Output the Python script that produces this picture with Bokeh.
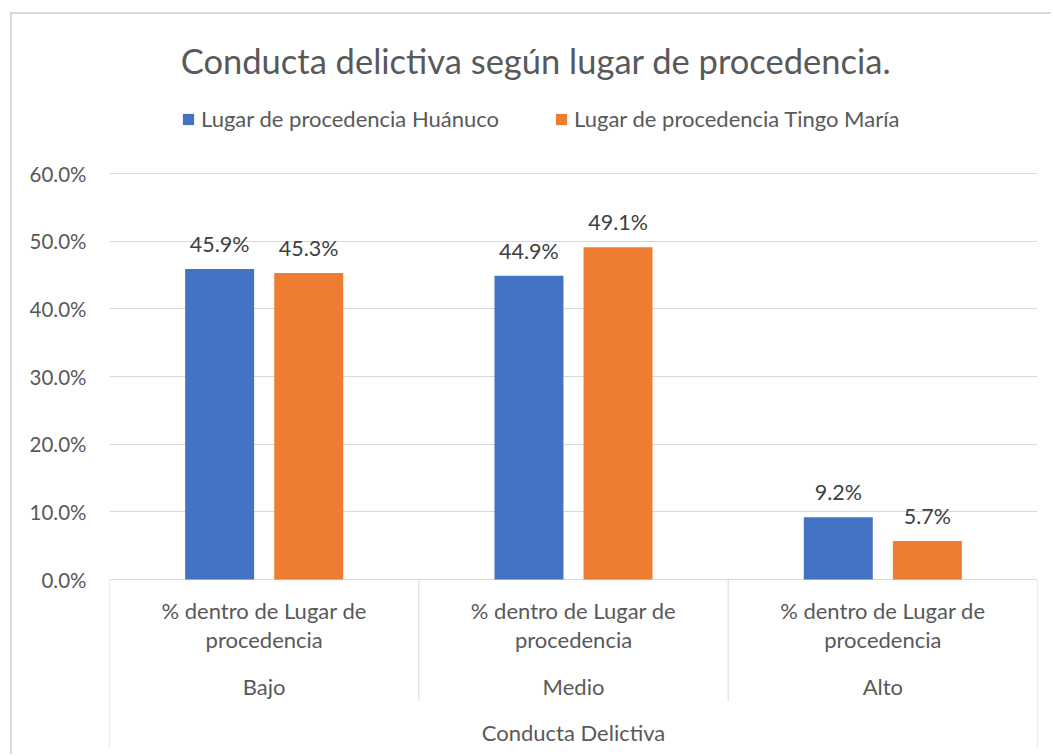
from bokeh.plotting import figure
from bokeh.models import (ColumnDataSource, FactorRange, Range1d, FixedTicker,
                          NumeralTickFormatter, Label, Legend, LegendItem)
from bokeh.transform import dodge
from bokeh.core.properties import value
from bokeh.embed import file_html
from bokeh.resources import INLINE

# ---------------- data ----------------
title_text = "Conducta delictiva según lugar de procedencia."
categories = ["Bajo", "Medio", "Alto"]
sub_label = "% dentro de Lugar de\nprocedencia"
group_label = "Conducta Delictiva"
series_names = ["Lugar de procedencia Huánuco", "Lugar de procedencia Tingo María"]
huanuco = [0.459, 0.449, 0.092]
tingo = [0.453, 0.491, 0.057]
y_ticks = [0.0, 0.1, 0.2, 0.3, 0.4, 0.5, 0.6]

# ---------------- layout / style ----------------
FONT = "Lato"
BLUE = "#4472C4"
ORANGE = "#ED7D31"
GRID = "#d9d9d9"
TXT = "#595959"
LBL = "#404040"

OX, OY = 12, 14            # page position of the canvas (after margin + border)
W, H = 1053 - OX, 756 - OY
FRAME_L, FRAME_R = 109, 1037
ZERO_Y = 579               # page y of 0 %
TOP_Y = 173                # page y of 60 %
PX = (ZERO_Y - TOP_Y) / (y_ticks[-1] - y_ticks[0])
PAGE_BOTTOM = OY + H


def py(page_y):
    return (ZERO_Y - page_y) / PX


y_start = py(PAGE_BOTTOM)
y_end = py(OY)

p = figure(width=W, height=H, output_backend="svg", toolbar_location=None,
           x_range=FactorRange(factors=categories, range_padding=0),
           y_range=Range1d(y_start, y_end),
           x_axis_location=None, y_axis_location="left",
           min_border_left=FRAME_L - OX, min_border_right=OX + W - FRAME_R,
           min_border_top=0, min_border_bottom=0)
p.outline_line_color = None
p.background_fill_color = "white"
p.border_fill_color = "white"
p.styles = {"margin-left": "10px", "margin-top": "12px",
            "border-top": "2px solid #d9d9d9", "border-left": "2px solid #d9d9d9"}

# y axis
ax = p.yaxis[0]
ax.ticker = FixedTicker(ticks=y_ticks)
ax.formatter = NumeralTickFormatter(format="0.0%")
ax.axis_line_color = None
ax.major_tick_line_color = None
ax.minor_tick_line_color = None
ax.major_tick_out = 0
ax.major_label_standoff = 23
ax.major_label_text_font = FONT
ax.major_label_text_font_size = "20.5px"
ax.major_label_text_color = TXT

p.xgrid.visible = False
p.ygrid.ticker = FixedTicker(ticks=y_ticks)
p.ygrid.grid_line_color = GRID
p.ygrid.grid_line_width = 1

src = ColumnDataSource(dict(
    cat=categories,
    h=huanuco,
    t=tingo,
    hl=[f"{v*100:.1f}%" for v in huanuco],
    tl=[f"{v*100:.1f}%" for v in tingo],
))

BW = 0.223
OFF = 0.144
r1 = p.vbar(x=dodge("cat", -OFF, range=p.x_range), top="h", bottom=0, width=BW,
            source=src, fill_color=BLUE, line_color=None)
r2 = p.vbar(x=dodge("cat", OFF, range=p.x_range), top="t", bottom=0, width=BW,
            source=src, fill_color=ORANGE, line_color=None)

for col, lab, off in (("h", "hl", -OFF), ("t", "tl", OFF)):
    p.text(x=dodge("cat", off, range=p.x_range), y=col, text=lab, source=src,
           text_font=value(FONT), text_font_size="21.5px", text_color=LBL,
           text_align="center", text_baseline="middle", y_offset=-25)

# category axis labels
n = len(categories)
sub_lines = sub_label.split("\n")
cat_src = ColumnDataSource(dict(
    x=categories,
    y1=[py(610)] * n,
    y2=[py(639)] * n,
    yc=[py(686)] * n,
    s1=[sub_lines[0]] * n,
    s2=[sub_lines[1]] * n,
))
common = dict(source=cat_src, text_font=value(FONT), text_font_size="22px",
              text_color=TXT, text_align="center", text_baseline="middle")
p.text(x="x", y="y1", text="s1", **common)
p.text(x="x", y="y2", text="s2", **common)
p.text(x="x", y="yc", text="x", **common)
p.text(x=[n / 2], y=[py(732)], text=[group_label], text_font=value(FONT),
       text_font_size="22px", text_color=TXT, text_align="center",
       text_baseline="middle")

# separator lines of the category axis
bounds = list(range(n + 1))
p.segment(x0=bounds, x1=bounds, y0=[0] * (n + 1),
          y1=[py(748) if b in (0, n) else py(701) for b in bounds],
          line_color=GRID, line_width=1)

# title
p.add_layout(Label(x=535.5 - FRAME_L, y=PAGE_BOTTOM - 60, x_units="screen",
                   y_units="screen", text=title_text, text_font=FONT,
                   text_font_size="34.5px", text_color=TXT, text_align="center",
                   text_baseline="middle"))

# legend
legend = Legend(items=[LegendItem(label=series_names[0], renderers=[r1]),
                       LegendItem(label=series_names[1], renderers=[r2])],
                orientation="horizontal",
                location=(181 - FRAME_L, PAGE_BOTTOM - 121 - 11),
                glyph_width=14, glyph_height=14, label_standoff=6, spacing=55,
                padding=0, margin=0, border_line_color=None,
                background_fill_alpha=0, label_text_font=FONT,
                label_text_font_size="22px", label_text_color=TXT,
                label_height=22)
p.add_layout(legend)

open("out.html", "w").write(file_html(p, INLINE))
